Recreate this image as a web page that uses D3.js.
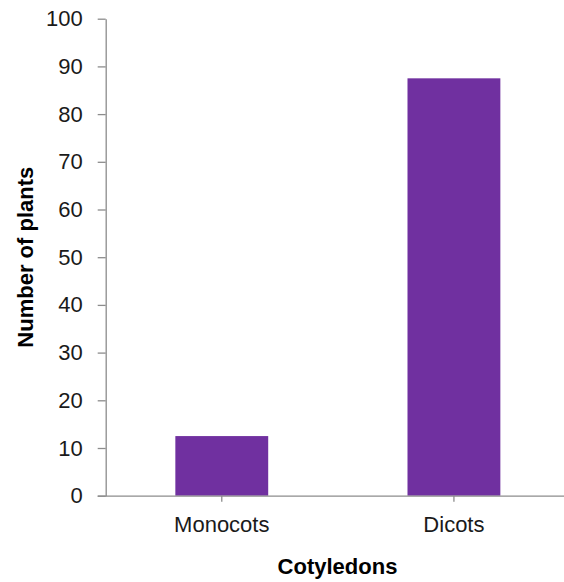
<!DOCTYPE html>
<html>
<head>
<meta charset="utf-8">
<script src="https://cdn.jsdelivr.net/npm/d3@7"></script>
<style>
  html, body { margin: 0; padding: 0; background: #fff; }
  svg { display: block; font-family: "Liberation Sans", Arial, sans-serif; }
</style>
</head>
<body>
<svg id="chart" width="564" height="582"></svg>
<script>
// Plant counts by cotyledon type
const categories = ["Monocots", "Dicots"];
const counts = [12.5, 87.5];
const yTicks = [0, 10, 20, 30, 40, 50, 60, 70, 80, 90, 100];

const svg = d3.select("#chart");
const margin = { left: 105.7, right: -6, top: 18.7, bottom: 86.3 };
const W = 564, H = 582;
const axisColor = "#8c8c8c";
const barColor = "#7030A0";

const x = d3.scaleBand()
  .domain(categories)
  .range([margin.left, W - margin.right])
  .paddingInner(0.6)
  .paddingOuter(0.3);

const y = d3.scaleLinear()
  .domain([0, 100])
  .range([H - margin.bottom, margin.top]);

// Bars
svg.append("g")
  .selectAll("rect")
  .data(categories.map((c, i) => ({ c, v: counts[i] })))
  .join("rect")
  .attr("x", d => x(d.c))
  .attr("width", x.bandwidth())
  .attr("y", d => y(d.v))
  .attr("height", d => y(0) - y(d.v))
  .attr("fill", barColor);

// Y axis
const yAxis = svg.append("g")
  .attr("transform", `translate(${margin.left},0)`)
  .call(d3.axisLeft(y).tickValues(yTicks).tickSize(8).tickPadding(15).tickSizeOuter(0));
yAxis.select(".domain").attr("stroke", axisColor).attr("stroke-width", 1.3);
yAxis.selectAll(".tick line").attr("stroke", axisColor).attr("stroke-width", 1.3);
yAxis.selectAll(".tick text")
  .attr("fill", "#1a1a1a")
  .style("font-size", "22px");

// X axis
const xAxis = svg.append("g")
  .attr("transform", `translate(0,${y(0)})`)
  .call(d3.axisBottom(x).tickSize(6).tickPadding(15).tickSizeOuter(0));
xAxis.select(".domain")
  .attr("d", `M${margin.left - 8},0.5H${W - margin.right}`)
  .attr("stroke", axisColor).attr("stroke-width", 1.3);
xAxis.selectAll(".tick line").attr("stroke", axisColor).attr("stroke-width", 1.3);
xAxis.selectAll(".tick text")
  .attr("fill", "#1a1a1a")
  .style("font-size", "22px");

// Axis titles
svg.append("text")
  .attr("x", 337.5)
  .attr("y", 574)
  .attr("text-anchor", "middle")
  .style("font-size", "22px")
  .style("font-weight", "bold")
  .attr("fill", "#000")
  .text("Cotyledons");

svg.append("text")
  .attr("transform", `translate(33,${(y(0) + y(100)) / 2}) rotate(-90)`)
  .attr("text-anchor", "middle")
  .style("font-size", "22px")
  .style("font-weight", "bold")
  .attr("fill", "#000")
  .text("Number of plants");
</script>
</body>
</html>
